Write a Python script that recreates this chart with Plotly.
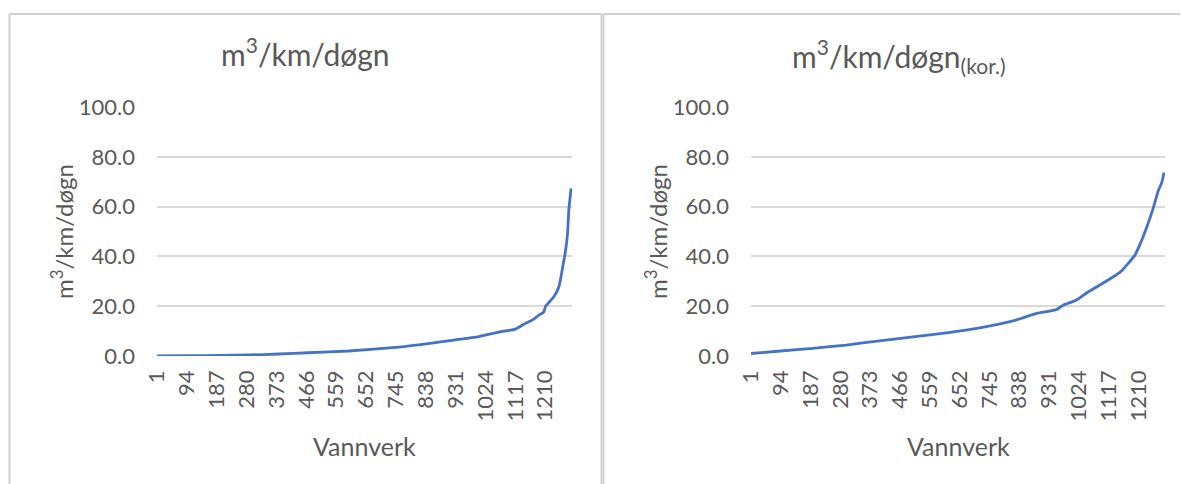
import plotly.graph_objects as go

W, H = 1181, 484

# Left chart: m3/km/døgn (sorted per waterworks)
cats_left = [1, 100, 200, 286, 380, 473, 598, 754, 857, 920, 1003, 1065, 1117,
             1148, 1170, 1190, 1205, 1211, 1236, 1252, 1264, 1273, 1279, 1283, 1286, 1290]
vals_left = [0.0, 0.1, 0.25, 0.4, 0.8, 1.3, 2.0, 3.6, 5.2, 6.3, 7.8, 9.6, 10.8,
             13.1, 14.5, 16.4, 17.6, 20.0, 23.7, 27.7, 35.7, 42.4, 49.0, 58.4, 62.4, 67.3]

# Right chart: m3/km/døgn (kor.)
cats_right = [1, 94, 194, 298, 402, 507, 611, 715, 819, 892, 955, 975, 1017, 1048,
              1100, 1153, 1200, 1220, 1236, 1257, 1272, 1283, 1290]
vals_right = [1.0, 2.0, 3.1, 4.4, 6.1, 7.7, 9.3, 11.3, 14.1, 17.1, 18.7, 20.4, 22.5, 25.3,
              29.3, 33.7, 40.7, 46.4, 51.7, 59.7, 66.4, 69.7, 73.7]

n_cats = 1293
tick_vals = list(range(1, 1211, 93))
tick_text = [str(v) for v in tick_vals]
y_ticks = [0, 20, 40, 60, 80, 100]

FONT = "Lato"
TXT = "#595959"
GRID = "#d9d9d9"
LINE = "#4472C4"

def px(x):
    return x / W

def py(y):
    return 1 - y / H

fig = go.Figure()
fig.add_trace(go.Scatter(x=cats_left, y=vals_left, mode="lines",
                         line=dict(color=LINE, width=2.8, shape="spline", smoothing=0.5),
                         xaxis="x", yaxis="y", showlegend=False))
fig.add_trace(go.Scatter(x=cats_right, y=vals_right, mode="lines",
                         line=dict(color=LINE, width=2.8, shape="spline", smoothing=0.5),
                         xaxis="x2", yaxis="y2", showlegend=False))

ydom = [py(356), py(107)]
xax = dict(range=[1, n_cats], tickmode="array", tickvals=tick_vals, ticktext=tick_text,
           tickangle=-90, showgrid=False, zeroline=False, showline=False,
           ticks="", ticklabelstandoff=9, automargin=False,
           tickfont=dict(family=FONT, size=22, color=TXT))
yax = dict(range=[0, 100], tickmode="array", tickvals=y_ticks,
           ticktext=[f"{v:.1f}" for v in y_ticks],
           showgrid=True, gridcolor=GRID, gridwidth=1.5, zeroline=False,
           showline=False, ticks="", ticklabelstandoff=21, automargin=False,
           tickfont=dict(family=FONT, size=22, color=TXT))

fig.update_layout(
    width=W, height=H, margin=dict(l=0, r=0, t=0, b=0, autoexpand=False),
    paper_bgcolor="white", plot_bgcolor="white",
    xaxis=dict(xax, domain=[px(157), px(572)], anchor="y"),
    yaxis=dict(yax, domain=ydom, anchor="x"),
    xaxis2=dict(xax, domain=[px(751), px(1165)], anchor="y2"),
    yaxis2=dict(yax, domain=ydom, anchor="x2"),
)

annos = [
    dict(text="m<sup>3</sup>/km/døgn", x=px(305), y=py(52), font=dict(size=30)),
    dict(text="m<sup>3</sup>/km/døgn<sub>(kor.)</sub>", x=px(899), y=py(56), font=dict(size=30)),
    dict(text="m<sup>3</sup>/km/døgn", x=px(62), y=py(232), textangle=-90, font=dict(size=24)),
    dict(text="m<sup>3</sup>/km/døgn", x=px(656), y=py(232), textangle=-90, font=dict(size=24)),
    dict(text="Vannverk", x=px(364), y=py(446), font=dict(size=25)),
    dict(text="Vannverk", x=px(958), y=py(446), font=dict(size=25)),
]
for a in annos:
    f = a.pop("font")
    fig.add_annotation(xref="paper", yref="paper", showarrow=False,
                       xanchor="center", yanchor="middle",
                       font=dict(family=FONT, color=TXT, size=f["size"]), **a)

# chart area borders
bc = "#d0d0d0"
for x0, y0, x1, y1 in [(9.5, 14, 9.5, 484), (9.5, 14, 601.5, 14), (601.5, 14, 601.5, 484),
                       (603.5, 14, 603.5, 484), (603.5, 14, 1180, 14)]:
    fig.add_shape(type="line", xref="paper", yref="paper",
                  x0=px(x0), y0=py(y0), x1=px(x1), y1=py(y1),
                  line=dict(color=bc, width=2))

fig.write_html("out.html")
